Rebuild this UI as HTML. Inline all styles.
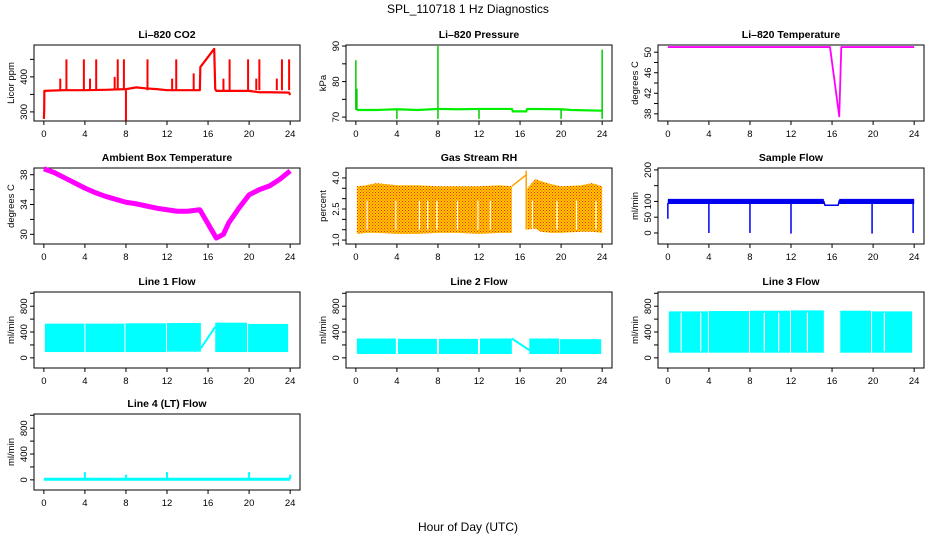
<!DOCTYPE html>
<html><head><meta charset="utf-8">
<style>
html,body{margin:0;padding:0;background:#fff;}
svg{display:block;font-family:"Liberation Sans",Arial,sans-serif;}
</style></head>
<body>
<svg id="chart" width="936" height="540" viewBox="0 0 936 540">
<text x="468" y="13" text-anchor="middle" font-size="12">SPL_110718  1 Hz Diagnostics</text>
<text x="468" y="531" text-anchor="middle" font-size="12">Hour of Day (UTC)</text>
</svg>
<script>
// ---- data arrays ----
const xTicks = [0,4,8,12,16,20,24];
// CO2
const co2T = [0,0.03,0.05,1,2,4,6,8,9,10,11,12,14,15.2,15.25,16.6,16.7,16.8,18,20,21,22,23.9,24];
const co2V = [280,300,360,361,362,362,363,365,370,367,365,362,362,362,428,480,365,360,360,360,356,356,355,348];
const co2SpikeT = [2.2,3.9,5.1,7.2,7.8,10.1,12.9,18.1,19.9,21.0,23.2,23.9,1.6,4.5,6.9,12.5,14.6,17.5,20.7,22.7,8.0];
const co2SpikeV = [450,450,450,450,450,450,450,450,450,450,450,450,395,395,400,395,410,395,395,395,275];
// Pressure
const presT = [0.1,2,4,6,8,10,12,15.2,15.3,16.6,16.7,20,21,24];
const presV = [72,72,72.2,72,72.3,72.2,72.3,72.3,71.6,71.6,72.3,72.2,72,71.8];
const presSpikeT = [0,0.1,8,24,4,8,12,20,24];
const presSpikeV = [86,78,90,89,69.5,69.5,69.5,69.5,69.5];
// Li-820 temperature
const tempT = [0,4,8,12,15.8,16.7,16.9,20,24];
const tempV = [51,51,51,51,51,37.5,51,51,51];
// Ambient box temperature
const ambT = [0,1,2,3,4,5,6,7,8,9,10,11,12,13,14,15.2,16.8,17.5,18,19,20,21,22,23,24];
const ambV = [38.8,38.3,37.6,36.9,36.2,35.6,35.1,34.7,34.3,34.1,33.8,33.5,33.3,33.1,33.1,33.3,29.5,30,31.5,33.5,35.3,36,36.5,37.4,38.5];
// Gas stream RH
const rhT = [0.1,1,2,4,6,8,10,12,14,15.2];
const rhHi = [3.6,3.65,3.75,3.65,3.65,3.6,3.6,3.6,3.65,3.6];
const rhLo = [1.3,1.35,1.35,1.3,1.3,1.35,1.35,1.3,1.35,1.35];
const rhT2 = [16.7,17.5,18,19,20,22,23,24];
const rhHi2 = [3.5,3.95,3.85,3.7,3.6,3.65,3.75,3.6];
const rhLo2 = [1.5,1.55,1.4,1.35,1.35,1.4,1.4,1.35];
const rhRampT = [15.2,16.6];
const rhRampV = [3.6,4.15];
const rhGaps = [1.1,3.9,6.2,7.0,7.9,9.9,11.9,13.1,17.2,19.6,21.5,23.4];
// Sample flow
const sfT = [0,4,8,12,15.2,15.3,16.6,16.7,20,24];
const sfV = [100,100,100,100,100,88,88,102,100,100];
const sfDipT = [0,4,8,12,19.9,23.9];
const sfDipV = [45,0,0,-2,-2,0];
// Line flows
const l1Seg = [[0.1,3.95],[4.05,7.85],[7.95,11.9],[12.0,15.3],[16.7,19.8],[19.9,23.8]];
const l1Hi = [530,530,535,540,545,525];
const l1Lo = [90,90,90,95,90,90];
const l1RampT = [15.3,16.7];
const l1RampV = [150,480];
const l2Seg = [[0.1,3.9],[4.1,7.9],[8.1,11.9],[12.1,15.2],[16.9,19.8],[19.9,23.9]];
const l2Hi = [300,295,295,300,300,290];
const l2Lo = [60,60,60,60,60,60];
const l2RampT = [15.2,16.9];
const l2RampV = [300,120];
const l3Seg = [[0.1,3.9],[4.0,7.9],[8.0,11.9],[12.0,15.2],[16.8,19.8],[19.9,23.8]];
const l3Hi = [720,725,730,735,730,720];
const l3Lo = [80,80,80,80,80,80];
const l3Gaps = [1.3,3.2,9.4,10.8,13.6,21.1];
const l4T = [0,24];
const l4V = [10,10];
const l4SpikeT = [4,8,12,20,24];
const l4SpikeV = [120,80,120,120,80];

// ---- helpers ----
const svg = document.getElementById('chart');
const NS = 'http://www.w3.org/2000/svg';
function mk(tag, attrs, parent){ const e=document.createElementNS(NS,tag); for(const k in attrs) e.setAttribute(k,attrs[k]); (parent||svg).appendChild(e); return e; }
const W=266, H=76;
function panel(name,title,x0,y0,ylim,yTicks,yLabels,yTitle,dec){
  const g = mk('g',{});
  
  
  const sx = v => x0 + (v+0.96)/25.92*W;
  const sy = v => y0 + H - (v-ylim[0])/(ylim[1]-ylim[0])*H;
  const t = mk('text',{x:x0+W/2,y:y0-7,'text-anchor':'middle','font-size':10.5,'font-weight':'bold'},g);
  t.textContent = title;
  
  
  const box = mk('rect',{x:x0,y:y0,width:W,height:H,fill:'none',stroke:'#000','stroke-width':1},g);
  
  
  const xa = mk('g',{},g);
  
  
  mk('line',{x1:sx(0),x2:sx(24),y1:y0+H,y2:y0+H,stroke:'#000'},xa);
  xTicks.forEach(v=>{
    mk('line',{x1:sx(v),x2:sx(v),y1:y0+H,y2:y0+H+4,stroke:'#000'},xa);
    const l=mk('text',{x:sx(v),y:y0+H+16,'text-anchor':'middle','font-size':9.5},xa); l.textContent=v;
  });
  const ya = mk('g',{},g);
  
  
  mk('line',{x1:x0,x2:x0,y1:sy(yTicks[0]),y2:sy(yTicks[yTicks.length-1]),stroke:'#000'},ya);
  yTicks.forEach(v=>mk('line',{x1:x0-4,x2:x0,y1:sy(v),y2:sy(v),stroke:'#000'},ya));
  yLabels.forEach(v=>{
    const yy=sy(v); const l=mk('text',{x:x0-7,y:yy,'text-anchor':'middle','font-size':9.5,transform:`rotate(-90 ${x0-7} ${yy})`},ya); l.textContent=dec?v.toFixed(dec):v;
  });
  const yt=mk('text',{x:x0-20,y:y0+H/2,'text-anchor':'middle','font-size':9.5,transform:`rotate(-90 ${x0-20} ${y0+H/2})`},g);
  yt.textContent=yTitle;
  
  
  const d = mk('g',{},g);
  
  
  return {sx,sy,g:d};
}
function line(p,xs,ys,col,w){ mk('polyline',{points:xs.map((x,i)=>p.sx(x)+','+p.sy(ys[i])).join(' '),fill:'none',stroke:col,'stroke-width':w,'stroke-linejoin':'round'},p.g); }
function spikes(p,ts,vs,base,col,w){ ts.forEach((t,i)=>mk('line',{x1:p.sx(t),x2:p.sx(t),y1:p.sy(base),y2:p.sy(vs[i]),stroke:col,'stroke-width':w},p.g)); }
function band(p,xs,lo,hi,fill){ const pts=xs.map((x,i)=>p.sx(x)+','+p.sy(hi[i])).concat(xs.map((x,i)=>p.sx(x)+','+p.sy(lo[i])).reverse()); mk('polygon',{points:pts.join(' '),fill:fill},p.g); }
function segs(p,seg,lo,hi,col){ seg.forEach((s,i)=>mk('rect',{x:p.sx(s[0]),y:p.sy(hi[i]),width:p.sx(s[1])-p.sx(s[0]),height:p.sy(lo[i])-p.sy(hi[i]),fill:col},p.g)); }
function gaps(p,ts,lo,hi){ ts.forEach(t=>mk('line',{x1:p.sx(t),x2:p.sx(t),y1:p.sy(hi),y2:p.sy(lo),stroke:'#fff','stroke-width':1.2},p.g)); }

// pattern for RH
const defs = mk('defs',{});
const pat = mk('pattern',{id:'rhp',width:3,height:3,patternUnits:'userSpaceOnUse'},defs);
mk('rect',{x:0,y:0,width:3,height:3,fill:'#ffcc00'},pat);
mk('rect',{x:0,y:0,width:1,height:1,fill:'#ff2000'},pat);
mk('rect',{x:1.5,y:1.5,width:1,height:1,fill:'#ff2000'},pat);

const C=[34,346,658], R=[45,168,292,414];
// CO2
let p = panel('co2-panel','Li\u2013820 CO2',C[0],R[0],[274,491],[300,350,400,450],[300,400],'Licor ppm');
line(p,co2T,co2V,'#ff0000',2.2);
spikes(p,co2SpikeT,co2SpikeV,362,'#ff0000',2);
// Pressure
p = panel('pressure-panel','Li\u2013820 Pressure',C[1],R[0],[68.9,90.3],[70,75,80,85,90],[70,80,90],'kPa');
line(p,presT,presV,'#00ee00',2.2);
spikes(p,presSpikeT,presSpikeV,72,'#00cc00',1.5);
// Temperature
p = panel('temperature-panel','Li\u2013820 Temperature',C[2],R[0],[36.6,51.4],[38,40,42,44,46,48,50],[38,42,46,50],'degrees C');
line(p,tempT,tempV,'#ff00ff',1.8);
// Ambient
p = panel('ambient-temp-panel','Ambient Box Temperature',C[0],R[1],[28.7,38.9],[30,32,34,36,38],[30,34,38],'degrees C');
line(p,ambT,ambV,'#ff00ff',5);
// RH
p = panel('rh-panel','Gas Stream RH',C[1],R[1],[0.81,4.48],[1.0,1.5,2.0,2.5,3.0,3.5,4.0],[1.0,2.5,4.0],'percent',1);
band(p,rhT,rhLo,rhHi,'url(#rhp)');
band(p,rhT2,rhLo2,rhHi2,'url(#rhp)');
line(p,rhRampT,rhRampV,'#ffa000',1.5);
spikes(p,[16.6],[4.35],1.5,'#ffa000',1.5);
gaps(p,rhGaps,1.5,2.9);
// Sample flow
p = panel('sample-flow-panel','Sample Flow',C[2],R[1],[-35,206],[0,50,100,150,200],[0,50,100,200],'ml/min');
band(p,[0,15.2],[92,92],[108,108],'#0000ee');
band(p,[16.7,24],[92,92],[108,108],'#0000ee');
line(p,sfT,sfV,'#0000ee',1.5);
spikes(p,sfDipT,sfDipV,95,'#0000ee',1.5);
// Line flows
const fl=[-157,1020], ft=[0,200,400,600,800,1000], fl2=[0,400,800];
p = panel('line1-flow-panel','Line 1 Flow',C[0],R[2],fl,ft,fl2,'ml/min');
segs(p,l1Seg,l1Lo,l1Hi,'#00ffff');
line(p,l1RampT,l1RampV,'#00ffff',2);
p = panel('line2-flow-panel','Line 2 Flow',C[1],R[2],fl,ft,fl2,'ml/min');
segs(p,l2Seg,l2Lo,l2Hi,'#00ffff');
line(p,l2RampT,l2RampV,'#00ffff',2);
p = panel('line3-flow-panel','Line 3 Flow',C[2],R[2],fl,ft,fl2,'ml/min');
segs(p,l3Seg,l3Lo,l3Hi,'#00ffff');
gaps(p,l3Gaps,100,700);
p = panel('line4-flow-panel','Line 4 (LT) Flow',C[0],R[3],fl,ft,fl2,'ml/min');
line(p,l4T,l4V,'#00ffff',3);
spikes(p,l4SpikeT,l4SpikeV,10,'#00ffff',2);
</script>
</body></html>
